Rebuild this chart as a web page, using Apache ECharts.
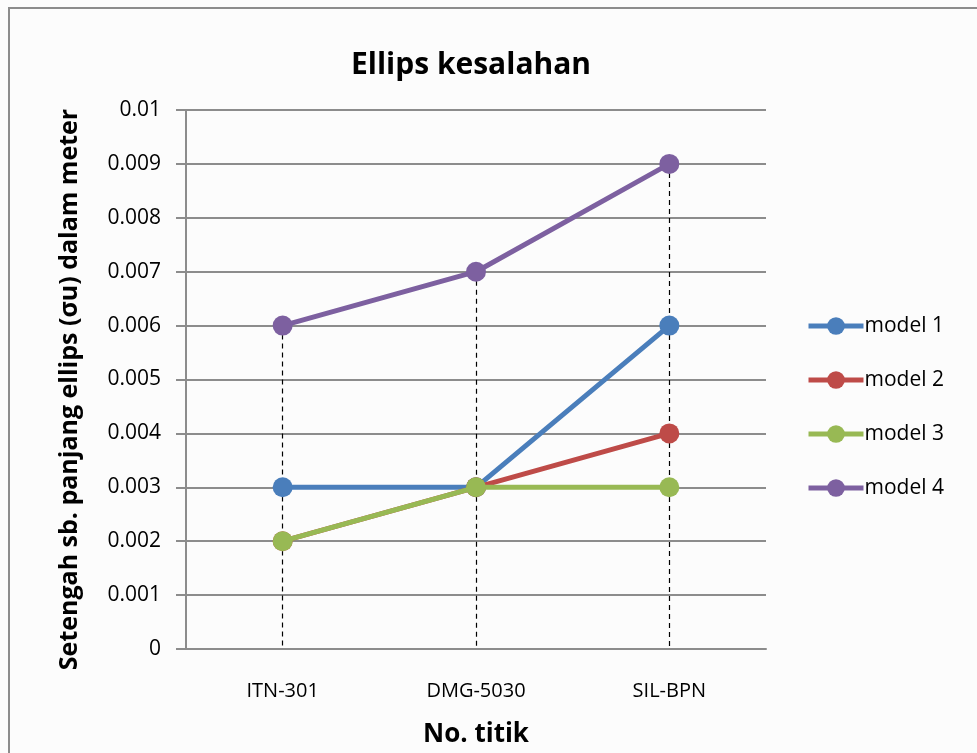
<!DOCTYPE html>
<html>
<head>
<meta charset="utf-8">
<script src="https://cdn.jsdelivr.net/npm/echarts@6/dist/echarts.min.js"></script>
<style>
  html, body { margin: 0; padding: 0; background: #fcfcfc; }
  #frame { position: absolute; left: 8px; top: 7px; right: -10px; bottom: -10px; border: 2px solid #8c8c8c; }
  #chart { position: absolute; left: 0; top: 0; width: 977px; height: 753px; }
</style>
</head>
<body>
<div id="frame"></div>
<div id="chart"></div>
<script>
// Titik pengamatan
const categories = ['ITN-301', 'DMG-5030', 'SIL-BPN'];
// Setengah sumbu panjang ellips (σu) per model, dalam meter
const model1 = [0.003, 0.003, 0.006];
const model2 = [0.002, 0.003, 0.004];
const model3 = [0.002, 0.003, 0.003];
const model4 = [0.006, 0.007, 0.009];
const seriesNames = ['model 1', 'model 2', 'model 3', 'model 4'];
const seriesColors = ['#4a7ebb', '#be4b48', '#98b954', '#7d60a0'];
const allSeries = [model1, model2, model3, model4];

// garis jatuh putus-putus dari titik tertinggi ke sumbu
const dropLines = categories.map((c, i) => {
  const top = Math.max(...allSeries.map(s => s[i]));
  return [{ coord: [c, top] }, { coord: [c, 0] }];
});

const chart = echarts.init(document.getElementById('chart'), null, { renderer: 'canvas' });
const font = 'Open Sans, Noto Sans, sans-serif';

chart.setOption({
  animation: false,
  backgroundColor: 'transparent',
  title: {
    text: 'Ellips kesalahan',
    left: 466, top: 45, textAlign: 'center',
    textStyle: { fontFamily: font, fontSize: 30, fontWeight: 'bold', color: '#000' }
  },
  legend: {
    orient: 'vertical',
    left: 806, top: 315, padding: 0,
    itemWidth: 55, itemHeight: 22, itemGap: 32,
    data: seriesNames,
    lineStyle: { width: 5 },
    textStyle: { fontFamily: font, fontSize: 21, lineHeight: 22, color: '#000', padding: [0, 0, 0, -4] }
  },
  grid: { left: 186, top: 110, width: 580, height: 539 },
  xAxis: {
    type: 'category',
    data: categories,
    boundaryGap: true,
    axisLine: { lineStyle: { color: '#8c8c8c', width: 2 } },
    axisTick: { show: false },
    axisLabel: { fontFamily: font, fontSize: 20, color: '#000', margin: 32 },
    name: 'No. titik',
    nameLocation: 'middle', nameGap: 73,
    nameTextStyle: { fontFamily: font, fontSize: 26, fontWeight: 'bold', color: '#000' }
  },
  yAxis: {
    type: 'value',
    min: 0, max: 0.01, interval: 0.001,
    axisLine: { show: true, lineStyle: { color: '#8c8c8c', width: 2 } },
    axisTick: { show: true, length: 10, lineStyle: { color: '#8c8c8c', width: 2 } },
    splitLine: { lineStyle: { color: '#8c8c8c', width: 2 } },
    axisLabel: {
      fontFamily: font, fontSize: 21, color: '#000', margin: 25,
      formatter: v => (v === 0 ? '0' : parseFloat(v.toFixed(3)).toString())
    },
    name: 'Setengah sb. panjang ellips (σu) dalam meter',
    nameLocation: 'middle', nameGap: 104, nameRotate: 90,
    nameTextStyle: { fontFamily: font, fontSize: 25, fontWeight: 'bold', color: '#000', padding: [0, 20, 0, 0] }
  },
  series: allSeries.map((data, k) => ({
    name: seriesNames[k],
    type: 'line',
    data: data,
    symbol: 'circle',
    symbolSize: 20,
    z: 3 + k,
    color: seriesColors[k],
    lineStyle: { width: 5, color: seriesColors[k] },
    itemStyle: { color: seriesColors[k] },
    markLine: k === 0 ? {
      silent: true, symbol: 'none', z: 1,
      label: { show: false },
      lineStyle: { type: [5, 4], color: '#000', width: 1.2 },
      data: dropLines
    } : undefined
  }))
});
</script>
</body>
</html>
